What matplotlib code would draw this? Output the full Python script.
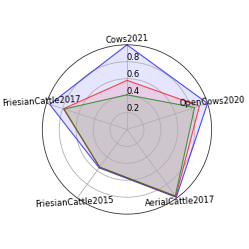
import matplotlib
matplotlib.use("Agg")
import numpy as np
import matplotlib.pyplot as plt

categories = ["Cows2021", "OpenCows2020", "AerialCattle2017", "FriesianCattle2015", "FriesianCattle2017"]
blue_vals = [1.0, 1.0, 0.99, 0.56, 0.96]
red_vals = [0.58, 0.90, 0.98, 0.55, 0.79]
green_vals = [0.41, 0.84, 0.97, 0.55, 0.78]
rticks = [0.2, 0.4, 0.6, 0.8]

angles = np.linspace(0, 2 * np.pi, len(categories), endpoint=False)
ang = np.append(angles, angles[0])

fig = plt.figure(figsize=(2.49, 2.49), dpi=100)
ax = fig.add_axes([0.17, 0.14, 0.68, 0.68], projection="polar")
ax.set_theta_offset(np.pi / 2)
ax.set_theta_direction(-1)

for vals, col in [(blue_vals, "blue"), (red_vals, "red"), (green_vals, "green")]:
    v = np.append(vals, vals[0])
    ax.plot(ang, v, color=col, lw=0.7, alpha=0.7)
    ax.fill(ang, v, color=col, alpha=0.1)

ax.set_ylim(0, 1)
ax.set_yticks(rticks)
ax.set_yticklabels([str(t) for t in rticks], fontsize=6)
ax.set_rlabel_position(0)
ax.set_xticks(angles)
ax.set_xticklabels([])
# category labels sit right on the outer ring, slightly tilted like the reference
for a, name in zip(angles, categories):
    ax.text(a, 1.06, name, fontsize=6, ha="center", va="center",
            rotation=3, rotation_mode="anchor")
ax.grid(color="#b0b0b0", lw=0.6)
ax.spines["polar"].set_color("#333333")
ax.spines["polar"].set_linewidth(0.6)

fig.savefig("out.png", dpi=100)
